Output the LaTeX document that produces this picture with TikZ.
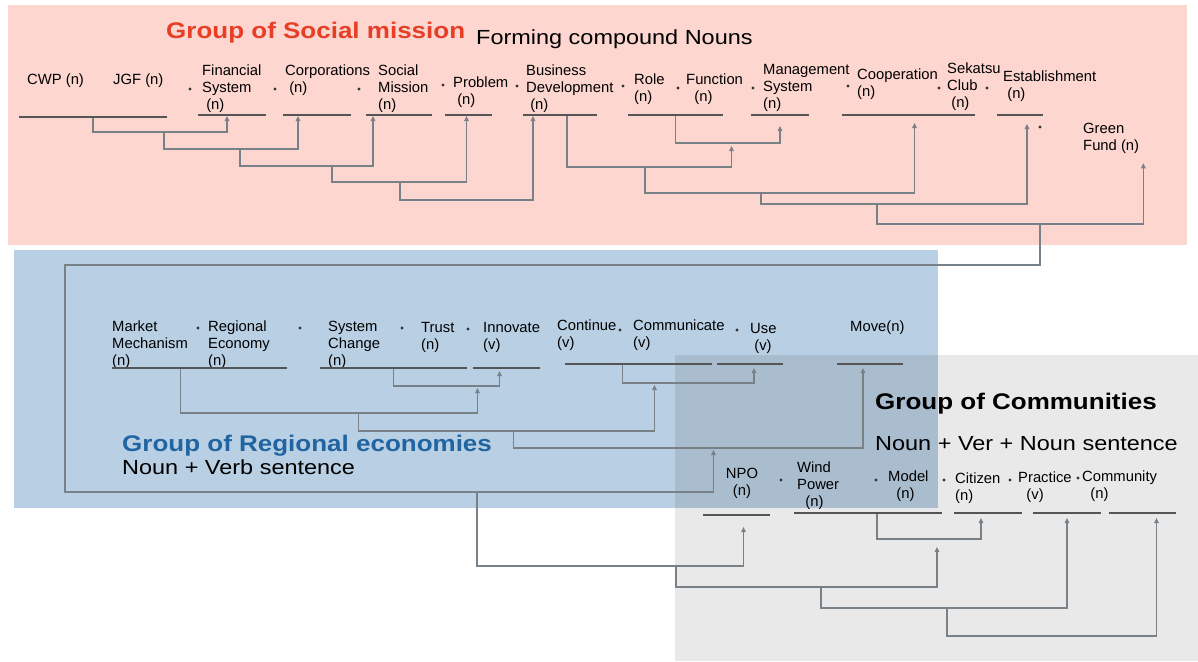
\documentclass[tikz,border=0pt]{standalone}
\usepackage{fontspec}
\setmainfont{Liberation Sans}
\newfontfamily\widesans[FakeStretch=1.15]{Liberation Sans}
\usetikzlibrary{arrows.meta}

\definecolor{pinkbg}{RGB}{253,214,208}
\definecolor{bluebg}{RGB}{185,207,227}
\definecolor{redtitle}{RGB}{232,62,38}
\definecolor{bluetitle}{RGB}{32,100,162}
\definecolor{ulgray}{RGB}{85,85,85}
\definecolor{linkgray}{RGB}{120,128,136}

\newcommand\lblfont{\fontsize{14.8}{17}\selectfont}
\newcommand\grouptitlefont{\widesans\fontsize{22.6}{26}\selectfont\bfseries}
\newcommand\groupsubfont{\widesans\fontsize{20.4}{24}\selectfont}

\begin{document}
\begin{tikzpicture}
  [x=1pt, y=-1pt,
   every node/.style={font=\lblfont, inner sep=0pt, align=left},
   word/.style={anchor=base west},
   grouptitle/.style={anchor=base west, font=\grouptitlefont},
   groupsub/.style={anchor=base west, font=\groupsubfont},
   uline/.style={fill=ulgray, minimum width=#1, minimum height=1.6pt},
   link/.style={draw=linkgray, line width=1.1pt, -{Triangle[length=5pt, width=4.5pt]}}]
  \useasboundingbox (0,0) rectangle (1198,661);

  \fill[pinkbg] (8,5) rectangle (1187,245);
  \fill[bluebg] (14,250) rectangle (938,508);
  \fill[black, fill opacity=0.085] (675,355) rectangle (1198,661);

  \node[grouptitle, text=redtitle] (tsoc) at (166,39) {Group of Social mission};
  \node[groupsub] (tsocsub) at (476,45) {Forming compound Nouns};
  \node[grouptitle, text=bluetitle] (treg) at (122,451) {Group of Regional economies};
  \node[groupsub] (tregsub) at (122,474) {Noun + Verb sentence};
  \node[grouptitle] (tcom) at (875,409) {Group of Communities};
  \node[groupsub] (tcomsub) at (875,450) {Noun + Ver + Noun sentence};

  \node[word] (cwp) at (27,84) {CWP (n)};
  \node[word] (jgf) at (113,84) {JGF (n)};
  \node[word] (fin) at (202,109) {Financial\\System\\\ (n)};
  \node[word] (cor) at (285,92) {Corporations\\\ (n)};
  \node[word] (soc) at (378,109) {Social\\Mission\\(n)};
  \node[word] (pro) at (453,104) {Problem\\\ (n)};
  \node[word] (bus) at (526,109) {Business\\Development\\\ (n)};
  \node[word] (rol) at (634,101) {Role\\(n)};
  \node[word] (fun) at (686,101) {Function\\\ \ (n)};
  \node[word] (man) at (763,108) {Management\\System\\(n)};
  \node[word] (coo) at (857,96) {Cooperation\\(n)};
  \node[word] (sek) at (947,107) {Sekatsu\\Club\\\ (n)};
  \node[word] (est) at (1003,98) {Establishment\\\ (n)};
  \node[word] (gf) at (1083,150) {Green\\Fund (n)};

  \node[word] (mkt) at (112,365) {Market\\Mechanism\\(n)};
  \node[word] (reg) at (208,365) {Regional\\Economy\\(n)};
  \node[word] (sys) at (328,365) {System\\Change\\(n)};
  \node[word] (tru) at (421,349) {Trust\\(n)};
  \node[word] (inn) at (483,349) {Innovate\\(v)};
  \node[word] (con) at (557,347) {Continue\\(v)};
  \node[word] (com) at (633,347) {Communicate\\(v)};
  \node[word] (use) at (750,350) {Use\\\ (v)};
  \node[word] (mov) at (850,331) {Move(n)};

  \node[anchor=base, align=center] (npo) at (742,495) {NPO\\(n)};
  \node[word] (win) at (797,506) {Wind\\Power\\\ \ (n)};
  \node[word] (mod) at (888,498) {Model\\\ \ (n)};
  \node[word] (cit) at (955,500) {Citizen\\(n)};
  \node[word] (pra) at (1018,499) {Practice\\\ \ (v)};
  \node[word] (cmu) at (1082,498) {Community\\\ \ (n)};

  \foreach \x/\y in {190/89, 275/89, 359/89, 443/85, 517/86, 623/86, 678/88,
                     753/88, 848/86, 939/88, 987/88, 1040/127,
                     198/328, 300/328, 402/328, 468/329, 620/330, 737/330,
                     781/480, 876/480, 944/480, 1010/480, 1078/478}
    \fill[black!80] (\x,\y) circle (1.7pt);

  \node[uline=148] (u1) at (93,117) {};
  \node[uline=68] (u2) at (232,115) {};
  \node[uline=68] (u3) at (317,115) {};
  \node[uline=66] (u4) at (399,115) {};
  \node[uline=47] (u5) at (468.5,115) {};
  \node[uline=74] (u6) at (560,115) {};
  \node[uline=95] (u7) at (675.5,115) {};
  \node[uline=58] (u8) at (780,115) {};
  \node[uline=133] (u9) at (908.5,115) {};
  \node[uline=46] (u10) at (1020,115) {};

  \node[uline=175] (v1) at (199.5,368) {};
  \node[uline=147] (v2) at (393.5,368) {};
  \node[uline=67] (v3) at (506.5,368) {};
  \node[uline=147] (v4) at (638.5,364) {};
  \node[uline=66] (v5) at (750,364) {};
  \node[uline=66] (v6) at (870,364) {};

  \node[uline=67] (w1) at (736.5,515) {};
  \node[uline=148] (w2) at (868,513) {};
  \node[uline=68] (w3) at (988,513) {};
  \node[uline=68] (w4) at (1067,513) {};
  \node[uline=67] (w5) at (1142.5,513) {};

  \draw[link] (u1.south) -- ++(0,14) coordinate (j1) -| ([xshift=-5]u2.south);
  \draw[link] ([xshift=71]j1) -- ++(0,17) coordinate (j2) -| ([xshift=-19]u3.south);
  \draw[link] ([xshift=76]j2) -- ++(0,17) coordinate (j3) -| ([xshift=-26]u4.south);
  \draw[link] ([xshift=92]j3) -- ++(0,16) coordinate (j4) -| ([xshift=-2]u5.south);
  \draw[link] ([xshift=68]j4) -- ++(0,18) -| ([xshift=-27]u6.south);
  \draw[link] (u7.south) -- ++(0,27) coordinate (j7) -| ([yshift=-10]u8.south);
  \draw[link] ([xshift=7]u6.south) -- ++(0,51) coordinate (j6) -| ([xshift=56,yshift=-3]j7);
  \draw[link] ([xshift=78]j6) -- ++(0,26) coordinate (j8) -| ([xshift=6,yshift=-7]u9.south);
  \draw[link] ([xshift=116]j8) -- ++(0,11) coordinate (j9) -| ([xshift=7,yshift=-8]u10.south);
  \draw[link] ([xshift=116]j9) -- ++(0,20) coordinate (j10) -| ([xshift=4,yshift=-10]gf.south east);

  \draw[link] (v2.south) -- ++(0,17) coordinate (b1) -| ([xshift=-7,yshift=-2]v3.south);
  \draw[link] ([xshift=-19]v1.south) -- ++(0,44) coordinate (b2) -| ([xshift=84,yshift=-2]b1);
  \draw[link] ([xshift=-16]v4.south) -- ++(0,18) coordinate (b3) -| ([xshift=4,yshift=-3]v5.south);
  \draw[link] ([xshift=178]b2) -- ++(0,18) coordinate (b4) -| ([xshift=32,yshift=-2]b3);
  \draw[link] ([xshift=155]b4) -- ++(0,17) coordinate (k5) -| ([xshift=-7,yshift=-3]v6.south);
  \draw[link] ([xshift=163]j10) -- ++(0,41) -| ++(-975,227) coordinate (fb) -| ([xshift=200,yshift=-2]k5);

  \draw[link] ([xshift=412]fb) -- ++(0,74) coordinate (c1) -| ([xshift=7,yshift=-11]w1.south);
  \draw[link] ([xshift=9]w2.south) -- ++(0,25) coordinate (c3) -| ([xshift=-7,yshift=-4]w3.south);
  \draw[link] ([xshift=199]c1) -- ++(0,21) coordinate (c2) -| ([xshift=60,yshift=-8]c3);
  \draw[link] ([xshift=145]c2) -- ++(0,21) coordinate (c4) -| ([yshift=-4]w4.south);
  \draw[link] ([xshift=126]c4) -- ++(0,28) -| ([xshift=14,yshift=-4]w5.south);
\end{tikzpicture}
\end{document}
